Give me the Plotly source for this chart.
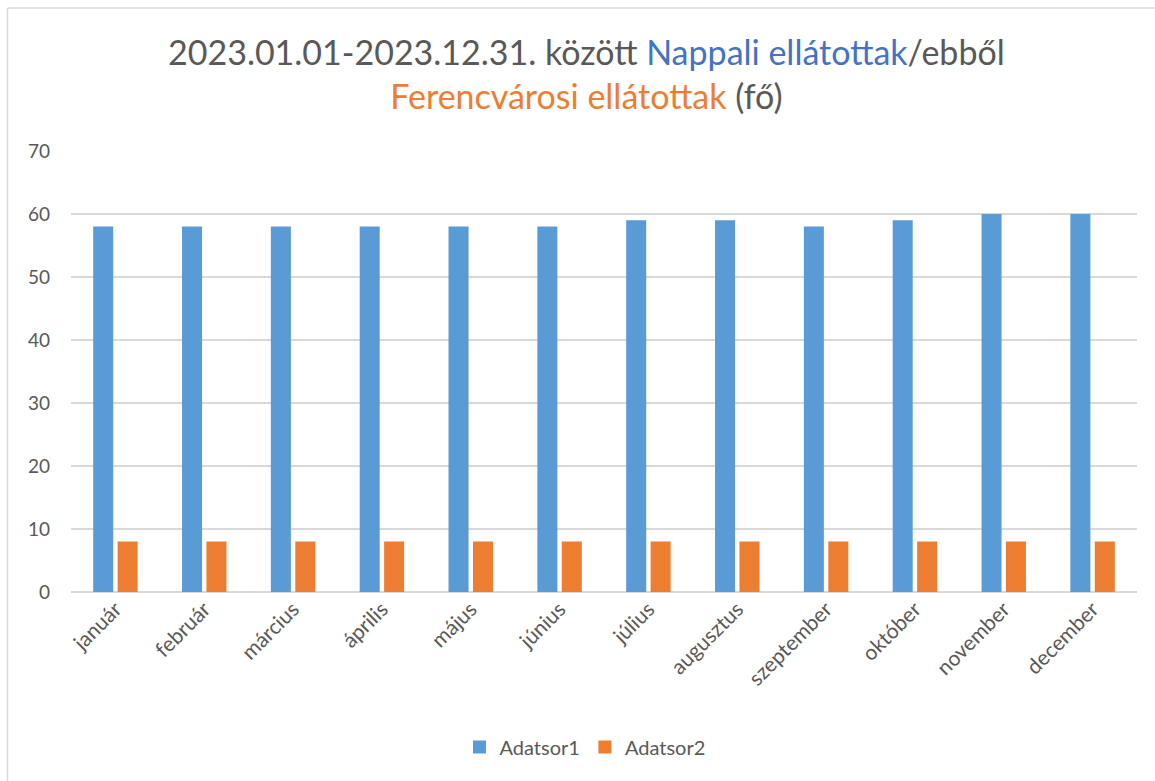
import plotly.graph_objects as go

months = ["január", "február", "március", "április", "május", "június",
          "július", "augusztus", "szeptember", "október", "november", "december"]
adatsor1 = [58, 58, 58, 58, 58, 58, 59, 59, 58, 59, 60, 60]
adatsor2 = [8, 8, 8, 8, 8, 8, 8, 8, 8, 8, 8, 8]
y_ticks = [0, 10, 20, 30, 40, 50, 60, 70]

FONT = "Lato"
GRAY = "#595959"
BLUE = "#5B9BD5"
ORANGE = "#ED7D31"

fig = go.Figure()
fig.add_trace(go.Bar(name="Adatsor1", x=months, y=adatsor1, marker_color=BLUE,
                     marker_line_width=0, showlegend=False))
fig.add_trace(go.Bar(name="Adatsor2", x=months, y=adatsor2, marker_color=ORANGE,
                     marker_line_width=0, showlegend=False))
# legend entries with square keys
for nm, col in [("Adatsor1", BLUE), ("Adatsor2", ORANGE)]:
    fig.add_trace(go.Scatter(name=nm, x=[None], y=[None], mode="markers",
                             marker=dict(symbol="square", size=13, color=col)))

L, R, T, B = 71, 18, 151, 189
W, H = 1155, 781
pw = W - L - R
ph = H - T - B

fig.update_layout(
    width=W, height=H,
    margin=dict(l=L, r=R, t=T, b=B),
    paper_bgcolor="white", plot_bgcolor="white",
    barmode="group", bargap=0.45, bargroupgap=0.18,
    font=dict(family=FONT, color=GRAY, size=19),
    showlegend=True,
    legend=dict(orientation="h", x=(585 - L) / pw, xanchor="center",
                y=(T + ph - 747) / ph, yanchor="middle",
                font=dict(size=20, color=GRAY), itemwidth=30, tracegroupgap=0),
    xaxis=dict(tickangle=-45, showgrid=False, showline=False, ticks="",
               tickfont=dict(size=21, color=GRAY)),
    yaxis=dict(range=[0, 70], tickvals=y_ticks, showgrid=True, gridcolor="#D9D9D9",
               gridwidth=1.5, zeroline=True, zerolinecolor="#D9D9D9", zerolinewidth=1.5,
               ticks="", tickfont=dict(size=19, color=GRAY), ticklabelstandoff=20),
)

title_text = ("2023.01.01-2023.12.31. között <span style='color:#4472C4'>Nappali ellátottak</span>/ebből"
              "<br><span style='color:#ED7D31'>Ferencvárosi ellátottak</span> (fő)")
fig.add_annotation(text=title_text, xref="paper", yref="paper",
                   x=(586 - L) / pw, y=(T + ph - 73) / ph, xanchor="center", yanchor="middle",
                   showarrow=False, font=dict(family=FONT, size=34, color=GRAY))

# chart frame
bx = (7.5 - L) / pw
by = (T + ph - 8) / ph
fig.add_shape(type="line", xref="paper", yref="paper", x0=bx, x1=bx, y0=by, y1=-0.5,
              line=dict(color="#D9D9D9", width=1.5))
fig.add_shape(type="line", xref="paper", yref="paper", x0=bx, x1=1.1, y0=by, y1=by,
              line=dict(color="#D9D9D9", width=1.5))

fig.write_html("out.html", config={"displayModeBar": False},
               post_script="document.body.style.margin='0';document.body.style.padding='0';")
